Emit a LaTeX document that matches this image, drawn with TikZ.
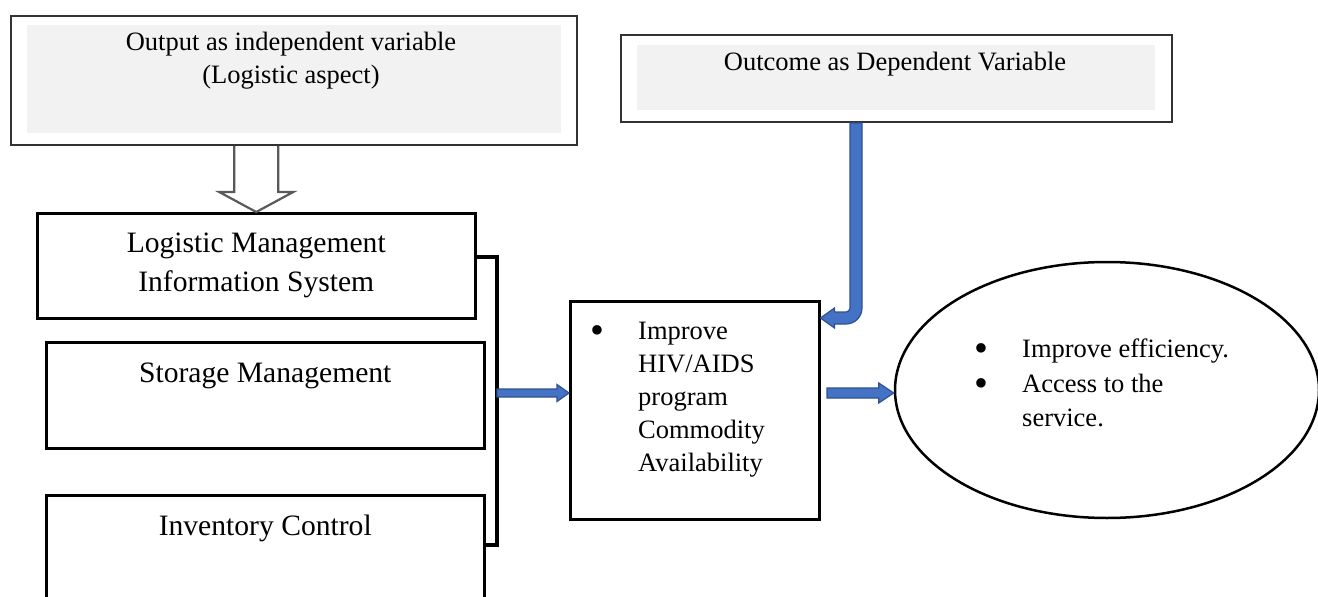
\documentclass[tikz,border=0pt]{standalone}
\usepackage{fontspec}
\setmainfont{Liberation Serif}
\usetikzlibrary{positioning}
\usetikzlibrary{calc}
\usetikzlibrary{shapes.geometric}
\definecolor{mblue}{HTML}{4472C4}
\definecolor{mbluedark}{HTML}{2F528F}
\definecolor{mshade}{HTML}{F2F2F2}
\definecolor{mgrey}{HTML}{595959}

\newcommand\bigtext{\fontsize{29.6}{39}\selectfont}
\newcommand\smalltext{\fontsize{26.5}{33}\selectfont}
\newcommand\bul{\smash{\raisebox{-0.16em}{\scalebox{1.5}{\textbullet}}}}
% tail, tip, shaft half width, head half width, head length
\newcommand\blockarrow[5]{%
  \filldraw[flow] let \p1=(#1), \p2=(#2) in
    (\x1,\y1+#3) -- (\x2-#5,\y1+#3) -- (\x2-#5,\y1+#4) -- (\x2,\y1)
    -- (\x2-#5,\y1-#4) -- (\x2-#5,\y1-#3) -- (\x1,\y1-#3) -- cycle;}

\begin{document}
\begin{tikzpicture}[x=1pt, y=-1pt,
    box/.style={draw, line width=2.5, inner sep=0, anchor=north west},
    varbox/.style={draw=black!80, line width=2, inner sep=0, anchor=north west},
    shadebox/.style={fill=mshade, inner sep=0, anchor=north west},
    flow/.style={fill=mblue, draw=mbluedark, line width=1.2, line join=miter},
    hollow/.style={fill=white, draw=mgrey, line width=2.2, line join=miter},
    bracket/.style={draw, line width=3.5, line join=miter}]
  \useasboundingbox (0,0) rectangle (1318,597);
  \fill [white] (0,0) rectangle (1318,597);

  % variable boxes
  \node [varbox, minimum width=566, minimum height=129] (indep) at (10,15) {};
  \node [shadebox, minimum width=534, minimum height=108] (indepfill) at (27,25) {};
  \node [font=\smalltext, align=center] (indeptext) at (291,61) {Output as independent variable\\(Logistic aspect)};

  \node [varbox, minimum width=551, minimum height=87] (dep) at (620,34) {};
  \node [shadebox, minimum width=518, minimum height=65] (depfill) at (637,45) {};
  \node [font=\smalltext, anchor=base] (deptext) at (895,70) {Outcome as Dependent Variable};

  % logistic aspects
  \node [box, minimum width=438, minimum height=105] (lmis) at (36,212) {};
  \node [font=\bigtext, align=center] (lmistext) at (lmis.center) {Logistic Management\\Information System};

  \node [box, minimum width=438, minimum height=106] (store) at (45,341) {};
  \node [font=\bigtext, anchor=base] (storetext) at (store.center |- 0,382) {Storage Management};

  \node [box, minimum width=438, minimum height=130] (inv) at (45,494) {};
  \node [font=\bigtext, anchor=base] (invtext) at (inv.center |- 0,535) {Inventory Control};

  % availability and results
  \node [box, minimum width=249, minimum height=218] (avail) at (569,300) {};
  \node [font=\smalltext, anchor=north west, inner sep=0] (availtext) at (590,316)
    {\begin{tabular}{@{}p{48pt}@{}l@{}}
      \bul & Improve\\ & HIV/AIDS\\ & program\\ & Commodity\\ & Availability
    \end{tabular}};

  \node [ellipse, draw, line width=2.5, minimum width=424, minimum height=256, inner sep=0] (effic) at (1107,390) {};
  \node [font=\smalltext, anchor=north west, inner sep=0] (effictext) at (974,333)
    {\renewcommand\arraystretch{1.05}\begin{tabular}{@{}p{48pt}@{}l@{}}
      \bul & Improve efficiency.\\ \bul & Access to the\\ & service.
    \end{tabular}};

  % connectors
  \filldraw [hollow] let \p1=(indep.south), \p2=(lmis.north) in
    (\x2-22pt,\y1) -- (\x2-22pt,\y2+20pt) -- (\x2-37pt,\y2+20pt) -- (\x2,\y2)
    -- (\x2+37pt,\y2+20pt) -- (\x2+22pt,\y2+20pt) -- (\x2+22pt,\y1);

  \coordinate (brtop) at (lmis.east |- 0,257);
  \coordinate (brbot) at (inv.east |- 0,545);
  \coordinate (brx) at (497,393);
  \draw [bracket] (brtop) -| (brx) |- (brbot);

  \blockarrow{brx}{avail.west}{4pt}{8.5pt}{12pt}
  \coordinate (avout) at (827,393);
  \blockarrow{avout}{effic.west}{5pt}{10pt}{15pt}

  \coordinate (dvtop) at (dep.south -| 856,0);
  \coordinate (dvtip) at (avail.east |- 0,318);
  \filldraw [flow] let \p1=(dvtop), \p2=(dvtip) in
    (\x1-6pt,\y1) -- (\x1+6pt,\y1) -- (\x1+6pt,\y2+10pt)
    arc [start angle=0, end angle=-90, radius=16pt]
    -- (\x2+14pt,\y2-6pt) -- (\x2+14pt,\y2-10pt) -- (\x2,\y2)
    -- (\x2+14pt,\y2+10pt) -- (\x2+14pt,\y2+6pt) -- (\x1-10pt,\y2+6pt)
    arc [start angle=-90, end angle=0, radius=4pt] -- cycle;
\end{tikzpicture}
\end{document}
